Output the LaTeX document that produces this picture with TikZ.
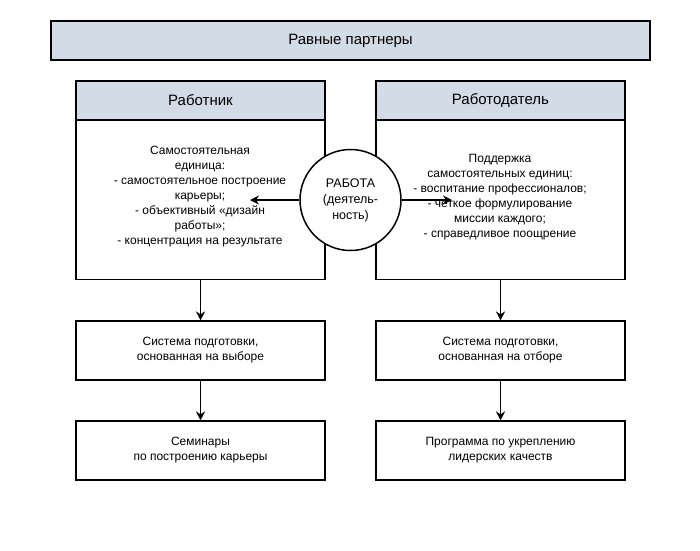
\documentclass[tikz,border=0pt]{standalone}
\usepackage{fontspec}
\setmainfont{Liberation Sans}
\usetikzlibrary{arrows.meta}
\begin{document}
\begin{tikzpicture}[x=1pt,y=-1pt,
 hdr/.style={draw,line width=1.5pt,fill=hd,minimum width=249pt,minimum height=39pt,font=\fontsize{15}{17}\selectfont},
 box/.style={draw,line width=1.1pt,minimum width=249pt,minimum height=59pt,align=center,font=\fontsize{12}{15}\selectfont},
 arr/.style={line width=1.8pt,-{Stealth[length=9pt,width=9pt]}}]
\definecolor{hd}{HTML}{D3DCE6}
\useasboundingbox (0,0) rectangle (700,550);
\node[hdr,minimum width=599pt] (top) at (350.5,40.5) {Равные партнеры};
\node[hdr] (lh) at (200.5,100.5) {Работник};
\node[hdr] (rh) at (500.5,100.5) {Работодатель};
\node[box,minimum height=159pt,anchor=north] (lb) at (200.5,120) {};
\node[box,minimum height=159pt,anchor=north] (rb) at (500.5,120) {};
\node[align=center,font=\fontsize{12}{15}\selectfont] at (200,197) {Самостоятельная\\единица:\\- самостоятельное построение\\карьеры;\\- объективный «дизайн\\работы»;\\- концентрация на результате};
\node[align=center,font=\fontsize{12}{15}\selectfont] at (500,197) {Поддержка\\самостоятельных единиц:\\- воспитание профессионалов;\\- четкое формулирование\\миссии каждого;\\- справедливое поощрение};
\node[circle,draw,line width=1.5pt,fill=white,minimum size=101pt,inner sep=0pt,align=center,font=\fontsize{12.5}{16}\selectfont] (c) at (350.5,200) {РАБОТА\\(деятель-\\ность)};
\coordinate (la) at (250,200);
\coordinate (ra) at (452,200);
\draw[arr] (c.west) -- (la);
\draw[arr] (c.east) -- (ra);
\node[box] (l2) at (200.5,350.5) {Система подготовки,\\основанная на выборе};
\node[box] (r2) at (500.5,350.5) {Система подготовки,\\основанная на отборе};
\node[box] (l3) at (200.5,450.5) {Семинары\\по построению карьеры};
\node[box] (r3) at (500.5,450.5) {Программа по укреплению\\лидерских качеств};
\draw[arr] (lb.south) -- (l2.north);
\draw[arr] (rb.south) -- (r2.north);
\draw[arr] (l2.south) -- (l3.north);
\draw[arr] (r2.south) -- (r3.north);
\end{tikzpicture}
\end{document}
